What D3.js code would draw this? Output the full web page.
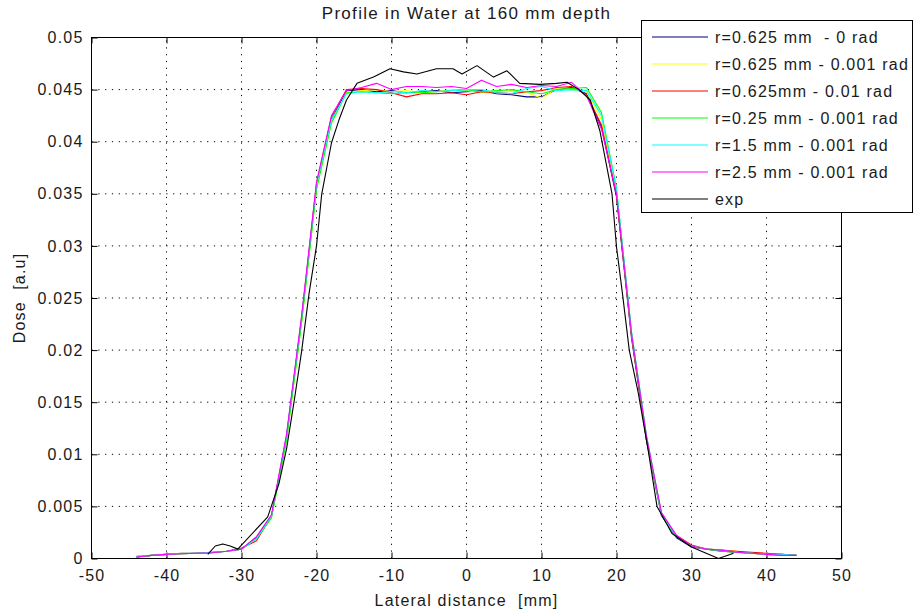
<!DOCTYPE html>
<html>
<head>
<meta charset="utf-8">
<script src="https://cdn.jsdelivr.net/npm/d3@7/dist/d3.min.js"></script>
<style>
  html, body { margin: 0; padding: 0; background: #fff; }
  svg { display: block; }
  text { font-family: "Liberation Sans", Arial, Helvetica, sans-serif; font-size: 16px; letter-spacing: 1.2px; fill: #1a1a1a; white-space: pre; }
  text.title { font-size: 17px; letter-spacing: 1.3px; }
</style>
</head>
<body>
<svg id="chart" width="914" height="614"></svg>
<script>
// Lateral positions of the simulated profiles [mm]
const xSim = [-44,-42,-40,-38,-36,-34,-32,-30,-28,-26,-24,-22,-20,-18,-16,
              -14,-12,-10,-8,-6,-4,-2,0,2,4,6,8,10,12,14,
              16,18,20,22,24,26,28,30,32,34,36,38,40,42,44];

// Simulated dose profiles [a.u]
const doseR0625_0 = [0.00015,0.0003,0.0004,0.00045,0.0005,0.00055,0.0007,0.0009,0.0020,0.0041,0.0117,0.0229,0.0357,0.0421,0.0449,
  0.0450,0.0448,0.0449,0.0447,0.0448,0.0449,0.0447,0.0448,0.0449,0.0446,0.0445,0.0443,0.0443,0.0450,0.0452,
  0.0446,0.0414,0.0347,0.0212,0.0113,0.0041,0.0020,0.0011,0.0009,0.0007,0.0006,0.0005,0.0004,0.0004,0.0003];
const doseR0625_0001 = [0.0002,0.0003,0.0004,0.00045,0.0005,0.0006,0.0007,0.0009,0.0019,0.0040,0.0114,0.0226,0.0356,0.0419,0.0447,
  0.0449,0.0450,0.0448,0.0449,0.0447,0.0448,0.0450,0.0449,0.0447,0.0448,0.0449,0.0447,0.0442,0.0451,0.0450,
  0.0448,0.0421,0.0352,0.0215,0.0116,0.0042,0.0021,0.0012,0.0009,0.0008,0.0007,0.0005,0.0004,0.0003,0.0003];
const doseR0625_001 = [0.00015,0.0003,0.0004,0.0005,0.0005,0.0006,0.0007,0.0010,0.0017,0.0041,0.0116,0.0230,0.0360,0.0424,0.0450,
  0.0451,0.0450,0.0447,0.0443,0.0446,0.0446,0.0447,0.0445,0.0448,0.0447,0.0446,0.0448,0.0449,0.0452,0.0453,
  0.0445,0.0416,0.0349,0.0214,0.0114,0.0043,0.0022,0.0013,0.0009,0.0008,0.0007,0.0006,0.0005,0.0004,0.0003];
const doseR025_0001 = [0.0002,0.0003,0.0004,0.00045,0.0005,0.00055,0.0007,0.0009,0.0019,0.0039,0.0113,0.0225,0.0354,0.0418,0.0447,
  0.0448,0.0447,0.0446,0.0447,0.0447,0.0448,0.0449,0.0450,0.0448,0.0449,0.0450,0.0448,0.0446,0.0450,0.0451,
  0.0452,0.0428,0.0355,0.0217,0.0117,0.0042,0.0021,0.0012,0.0009,0.0007,0.0006,0.0005,0.0004,0.0003,0.0003];
const doseR15_0001 = [0.0002,0.0003,0.0004,0.0005,0.0005,0.0006,0.0007,0.0009,0.0019,0.0041,0.0118,0.0231,0.0359,0.0421,0.0446,
  0.0448,0.0447,0.0448,0.0447,0.0449,0.0448,0.0449,0.0450,0.0450,0.0447,0.0446,0.0451,0.0453,0.0449,0.0450,
  0.0449,0.0425,0.0354,0.0218,0.0118,0.0043,0.0021,0.0012,0.0009,0.0008,0.0006,0.0005,0.0004,0.0004,0.0003];
const doseR25_0001 = [0.00015,0.0003,0.0004,0.00045,0.0005,0.00055,0.0007,0.0009,0.0021,0.0042,0.0119,0.0232,0.0361,0.0425,0.0449,
  0.0452,0.0456,0.0450,0.0453,0.0453,0.0452,0.0453,0.0451,0.0459,0.0453,0.0455,0.0452,0.0454,0.0453,0.0457,
  0.0444,0.0412,0.0350,0.0216,0.0117,0.0044,0.0022,0.0012,0.0009,0.0008,0.0006,0.0005,0.0004,0.0003,0.0003];

// Measured profile
const xExp = [-34.5,-33.5,-32.5,-31.5,-30.5,-26.5,-25,-24,-23,-22,-21,-20,-19.3,-18,-17,-16,
              -14.6,-12.4,-10.2,-8.4,-6.6,-4,-1.8,-0.6,1.4,3.6,5.4,7.1,9.8,12,13.4,15,
              16.5,17.8,19.4,20,20.8,21.7,22.9,24.2,25.4,27.4,30,33.6,35.6];
const doseExp = [0.0004,0.0012,0.0014,0.0012,0.0009,0.0040,0.0072,0.0105,0.0150,0.0198,0.0254,0.0300,0.0350,0.0399,0.0421,0.0440,
                 0.0456,0.0462,0.0470,0.0467,0.0465,0.0470,0.0470,0.0465,0.0473,0.0462,0.0468,0.0456,0.0455,0.0456,0.0457,0.0450,
                 0.0440,0.0410,0.0350,0.0299,0.0254,0.0200,0.0159,0.0105,0.0050,0.0024,0.0011,0.0000,0.0005];

const seriesNames = ["r=0.625 mm  - 0 rad", "r=0.625 mm - 0.001 rad", "r=0.625mm - 0.01 rad",
                     "r=0.25 mm - 0.001 rad", "r=1.5 mm - 0.001 rad", "r=2.5 mm - 0.001 rad", "exp"];
const seriesColors = ["#000080", "#ffff00", "#ff0000", "#00ff00", "#00ffff", "#ff00ff", "#000000"];

const xTicks = [-50,-40,-30,-20,-10,0,10,20,30,40,50];
const xTickLabels = ["-50","-40","-30","-20","-10","0","10","20","30","40","50"];
const yTicks = [0,0.005,0.01,0.015,0.02,0.025,0.03,0.035,0.04,0.045,0.05];
const yTickLabels = ["0","0.005","0.01","0.015","0.02","0.025","0.03","0.035","0.04","0.045","0.05"];

const titleText = "Profile in Water at 160 mm depth";
const xLabelText = "Lateral distance  [mm]";
const yLabelText = "Dose  [a.u]";

// ---- layout ----
const plotL = 91.5, plotR = 841.5, plotT = 37.5, plotB = 558.5;
const svg = d3.select("#chart");

const x = d3.scaleLinear().domain([-50, 50]).range([plotL, plotR]);
const y = d3.scaleLinear().domain([0, 0.05]).range([plotB, plotT]);

// dotted grid
const grid = svg.append("g").attr("stroke", "#000").attr("stroke-width", 1)
  .attr("stroke-dasharray", "1.2,5.6").attr("fill", "none");
xTicks.slice(1, -1).forEach(v => {
  grid.append("line").attr("x1", x(v)).attr("x2", x(v)).attr("y1", plotB).attr("y2", plotT);
});
yTicks.slice(1, -1).forEach(v => {
  grid.append("line").attr("x1", plotL).attr("x2", plotR).attr("y1", y(v)).attr("y2", y(v));
});

// axes with inward ticks on all four sides
const tickLen = 6;
const xAxisB = d3.axisBottom(x).tickValues(xTicks).tickFormat((d, i) => xTickLabels[i])
  .tickSizeInner(-tickLen).tickSizeOuter(0).tickPadding(11);
const gxb = svg.append("g").attr("transform", `translate(0,${plotB})`).call(xAxisB);
const xAxisT = d3.axisTop(x).tickValues(xTicks).tickFormat("").tickSizeInner(-tickLen).tickSizeOuter(0);
const gxt = svg.append("g").attr("transform", `translate(0,${plotT})`).call(xAxisT);
const yAxisL = d3.axisLeft(y).tickValues(yTicks).tickFormat((d, i) => yTickLabels[i])
  .tickSizeInner(-tickLen).tickSizeOuter(0).tickPadding(8);
const gyl = svg.append("g").attr("transform", `translate(${plotL},0)`).call(yAxisL);
const yAxisR = d3.axisRight(y).tickValues(yTicks).tickFormat("").tickSizeInner(-tickLen).tickSizeOuter(0);
const gyr = svg.append("g").attr("transform", `translate(${plotR},0)`).call(yAxisR);

[gxb, gxt, gyl, gyr].forEach(g => {
  g.select(".domain").remove();
  g.selectAll(".tick line").attr("stroke", "#000");
  g.selectAll("text").attr("font-family", null).attr("font-size", null).attr("fill", "#1a1a1a");
});
gxb.selectAll(".tick text").attr("dy", "0.71em");

// frame
svg.append("rect").attr("x", plotL).attr("y", plotT).attr("width", plotR - plotL).attr("height", plotB - plotT)
  .attr("fill", "none").attr("stroke", "#000").attr("stroke-width", 1);

// profiles
const simSeries = [doseR0625_0, doseR0625_0001, doseR0625_001, doseR025_0001, doseR15_0001, doseR25_0001];
const line = d3.line().x(d => x(d[0])).y(d => y(d[1]));
const plot = svg.append("g").attr("fill", "none").attr("stroke-width", 1.1).attr("stroke-linejoin", "round");
simSeries.forEach((vals, i) => {
  plot.append("path").datum(xSim.map((xv, k) => [xv, vals[k]]))
    .attr("stroke", seriesColors[i]).attr("d", line);
});
plot.append("path").datum(xExp.map((xv, k) => [xv, doseExp[k]]))
  .attr("stroke", seriesColors[6]).attr("d", line);

// title and axis labels
svg.append("text").attr("class", "title").attr("x", (plotL + plotR) / 2).attr("y", 19)
  .attr("text-anchor", "middle").text(titleText);
svg.append("text").attr("x", (plotL + plotR) / 2).attr("y", 606).attr("text-anchor", "middle").text(xLabelText);
svg.append("text").attr("transform", `translate(25,${(plotT + plotB) / 2}) rotate(-90)`)
  .attr("text-anchor", "middle").text(yLabelText);

// legend
const lg = svg.append("g");
const lgX = 641.5, lgY = 20.5, lgW = 271, lgH = 192;
lg.append("rect").attr("x", lgX).attr("y", lgY).attr("width", lgW).attr("height", lgH)
  .attr("fill", "#fff").attr("stroke", "#000").attr("stroke-width", 1);
seriesNames.forEach((name, i) => {
  const cy = 37 + i * 27;
  lg.append("line").attr("x1", 652).attr("x2", 708).attr("y1", cy).attr("y2", cy)
    .attr("stroke", seriesColors[i]).attr("stroke-width", 1.1);
  lg.append("text").attr("x", 715).attr("y", cy + 5.5).text(name);
});
</script>
</body>
</html>
